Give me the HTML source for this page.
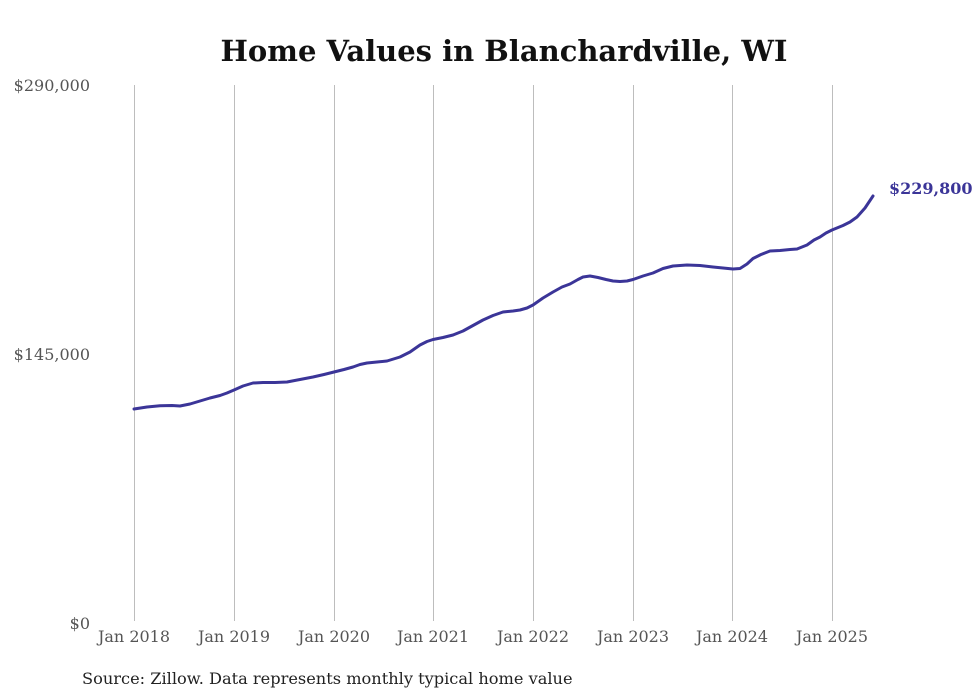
<!DOCTYPE html>
<html>
<head>
<meta charset="utf-8">
<style>
  html,body{margin:0;padding:0;background:#fff;}
  body{width:980px;height:699px;overflow:hidden;}
  svg{display:block;}
  text{font-family:"DejaVu Serif","Liberation Serif",serif;}
</style>
</head>
<body>
<svg width="980" height="699" viewBox="0 0 980 699" xmlns="http://www.w3.org/2000/svg">
  <rect width="980" height="699" fill="#fff"/>
  <text x="504" y="61" text-anchor="middle" font-size="29" font-weight="bold" fill="#111">Home Values in Blanchardville, WI</text>

  <g stroke="#bdbdbd" stroke-width="1">
    <line x1="134.5" y1="85" x2="134.5" y2="621"/>
    <line x1="234.5" y1="85" x2="234.5" y2="621"/>
    <line x1="334.5" y1="85" x2="334.5" y2="621"/>
    <line x1="433.5" y1="85" x2="433.5" y2="621"/>
    <line x1="533.5" y1="85" x2="533.5" y2="621"/>
    <line x1="633.5" y1="85" x2="633.5" y2="621"/>
    <line x1="732.5" y1="85" x2="732.5" y2="621"/>
    <line x1="832.5" y1="85" x2="832.5" y2="621"/>
  </g>

  <g font-size="16" fill="#555" text-anchor="end">
    <text x="90" y="91">$290,000</text>
    <text x="90" y="360">$145,000</text>
    <text x="90" y="629">$0</text>
  </g>

  <g font-size="16" fill="#555" text-anchor="middle">
    <text x="134" y="642">Jan 2018</text>
    <text x="234" y="642">Jan 2019</text>
    <text x="334" y="642">Jan 2020</text>
    <text x="433" y="642">Jan 2021</text>
    <text x="533" y="642">Jan 2022</text>
    <text x="633" y="642">Jan 2023</text>
    <text x="732" y="642">Jan 2024</text>
    <text x="832" y="642">Jan 2025</text>
  </g>

  <polyline fill="none" stroke="#3b3598" stroke-width="3" stroke-linejoin="round" stroke-linecap="round"
    points="134,409 147,407 160,405.7 172,405.5 180,406 190,404 200,401 210,398 220,395.5 227,393 234,390 243,386 253,383 263,382.5 275,382.5 287,382 300,379.5 313,377 324,374.5 334,372 344,369.5 353,367 360,364.5 367,363 377,362 387,361 400,357 410,352 420,345 427,341.5 433,339.5 443,337.5 453,335 463,331 473,325.5 483,320 493,315.5 503,312 513,311 520,310 527,308 533,305 543,298 553,292 562,287 570,284 578,279.5 583,277 590,276 598,277.5 606,279.5 613,281 620,281.5 627,281 633,279.5 643,276 653,273 663,268.5 673,266 687,265 700,265.5 713,267 723,268 733,269 740,268.5 747,264 753,258.5 761,254.5 770,251 780,250.5 790,249.5 797,249 807,245 814,240 820,237 826,233 832,230 843,225.5 850,222 857,217 865,208 873,196"/>

  <text x="889" y="194" font-size="16" font-weight="bold" fill="#3b3598">$229,800</text>

  <text x="82" y="684" font-size="16.2" fill="#222">Source: Zillow. Data represents monthly typical home value</text>
</svg>
</body>
</html>
